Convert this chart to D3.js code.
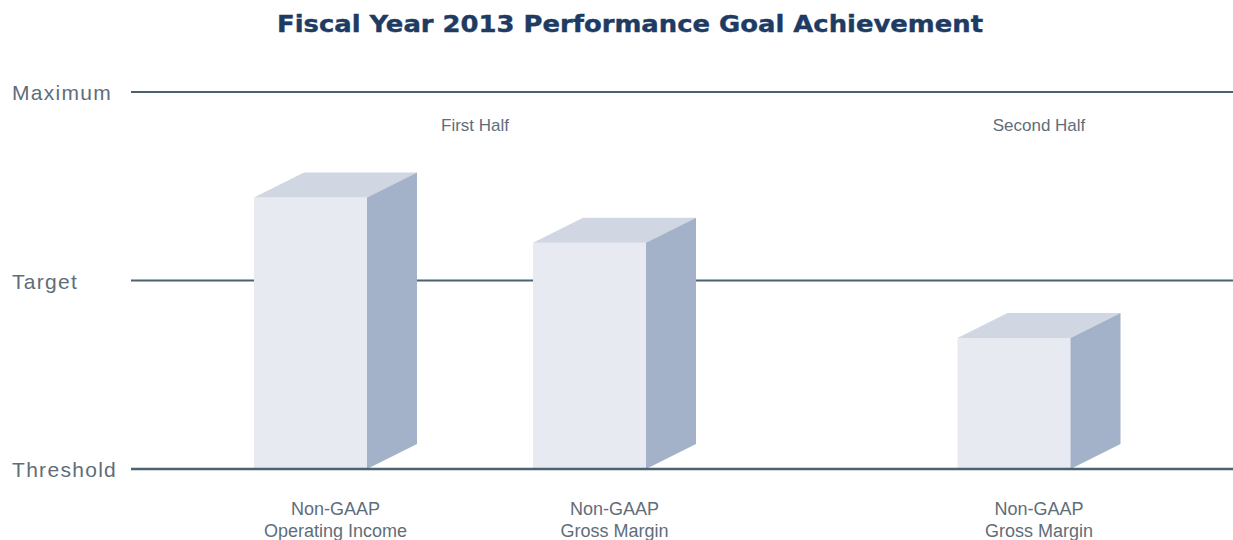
<!DOCTYPE html>
<html>
<head>
<meta charset="utf-8">
<script src="https://cdn.jsdelivr.net/npm/d3@7"></script>
<style>
  html, body { margin: 0; padding: 0; background: #fff; }
  svg { display: block; }
</style>
</head>
<body>
<svg id="chart" width="1233" height="540"></svg>
<script>
// goal levels (threshold = 0, target = 1, maximum = 2)
const levelLabels = ['Threshold', 'Target', 'Maximum'];
const levelValues = [0, 1, 2];

// performance periods and the metrics measured in each
const periods = ['First Half', 'Second Half'];
const metricPeriod = ['First Half', 'First Half', 'Second Half'];
const metricLines = [
  ['Non-GAAP', 'Operating Income'],
  ['Non-GAAP', 'Gross Margin'],
  ['Non-GAAP', 'Gross Margin'],
];
// achievement, on the threshold..maximum scale
const achievement = [1.44, 1.2, 0.695];

const width = 1233;
const height = 540;
const margin = { left: 131, right: 0, top: 92, bottom: 71 };
const barW = 113;
const depthX = 50;
const depthY = 25;
const step = 279;

const colors = {
  title: '#1d3b63',
  grid: '#4a6272',
  label: '#5f6d7a',
  front: '#e8eaf1',
  top: '#d0d6e2',
  side: '#a3b2c8',
};

const svg = d3.select('#chart');

const y = d3.scaleLinear()
  .domain([0, 2])
  .range([height - margin.bottom, margin.top]);

// group centres (of the front faces)
const xPeriod = d3.scalePoint()
  .domain(periods)
  .range([450, 1014]);

// position every bar inside its period
const bars = achievement.map((v, i) => {
  const period = metricPeriod[i];
  const members = metricPeriod.map((p, j) => [p, j]).filter((d) => d[0] === period).map((d) => d[1]);
  const k = members.indexOf(i);
  const cx = xPeriod(period) + (k - (members.length - 1) / 2) * step;
  return { value: v, period, lines: metricLines[i], cx };
});

// title
svg.append('text')
  .attr('x', 630)
  .attr('y', 32)
  .attr('text-anchor', 'middle')
  .attr('font-family', 'DejaVu Sans, sans-serif')
  .attr('font-weight', 'bold')
  .attr('font-size', 23)
  .attr('fill', colors.title)
  .attr('textLength', 706)
  .attr('lengthAdjust', 'spacingAndGlyphs')
  .attr('stroke', colors.title)
  .attr('stroke-width', 0.4)
  .text('Fiscal Year 2013 Performance Goal Achievement');

// level lines and labels
const levels = svg.append('g');
levels.selectAll('line')
  .data(levelValues)
  .join('line')
    .attr('x1', margin.left)
    .attr('x2', width - margin.right)
    .attr('y1', (d) => y(d))
    .attr('y2', (d) => y(d))
    .attr('stroke', colors.grid)
    .attr('stroke-width', 2);

levels.selectAll('text')
  .data(levelValues)
  .join('text')
    .attr('x', 12)
    .attr('y', (d) => y(d) + 8)
    .attr('font-family', 'Liberation Sans, Arial, sans-serif')
    .attr('font-size', 21)
    .attr('letter-spacing', 1.3)
    .attr('fill', colors.label)
    .text((d, i) => levelLabels[i]);

// period labels
svg.append('g')
  .selectAll('text')
  .data(periods)
  .join('text')
    .attr('x', (d) => xPeriod(d) + depthX / 2)
    .attr('y', 131)
    .attr('text-anchor', 'middle')
    .attr('font-family', 'Liberation Sans, Arial, sans-serif')
    .attr('font-size', 17)
    .attr('fill', colors.label)
    .text((d) => d);

// 3d bars
const barG = svg.append('g')
  .selectAll('g')
  .data(bars)
  .join('g');

const base = y(0);
barG.append('rect')
  .attr('x', (d) => d.cx - barW / 2)
  .attr('y', (d) => y(d.value))
  .attr('width', barW)
  .attr('height', (d) => base - y(d.value))
  .attr('fill', colors.front);

barG.append('path')
  .attr('fill', colors.top)
  .attr('d', (d) => {
    const x0 = d.cx - barW / 2;
    const x1 = d.cx + barW / 2;
    const t = y(d.value);
    return d3.line()([[x0, t], [x0 + depthX, t - depthY], [x1 + depthX, t - depthY], [x1, t]]) + 'Z';
  });

barG.append('path')
  .attr('fill', colors.side)
  .attr('d', (d) => {
    const x1 = d.cx + barW / 2;
    const t = y(d.value);
    return d3.line()([[x1, t], [x1 + depthX, t - depthY], [x1 + depthX, base - depthY], [x1, base]]) + 'Z';
  });

// baseline redrawn over the bar feet
svg.append('line')
  .attr('x1', margin.left)
  .attr('x2', width - margin.right)
  .attr('y1', base)
  .attr('y2', base)
  .attr('stroke', colors.grid)
  .attr('stroke-width', 2.5);

// metric labels, centred on the whole block including its depth
const labels = barG.append('text')
  .attr('text-anchor', 'middle')
  .attr('font-family', 'Liberation Sans, Arial, sans-serif')
  .attr('font-size', 18)
  .attr('fill', colors.label);

labels.selectAll('tspan')
  .data((d) => d.lines.map((l) => ({ l, cx: d.cx + depthX / 2 })))
  .join('tspan')
    .attr('x', (d) => d.cx)
    .attr('y', (d, i) => 515 + i * 22)
    .text((d) => d.l);
</script>
</body>
</html>
